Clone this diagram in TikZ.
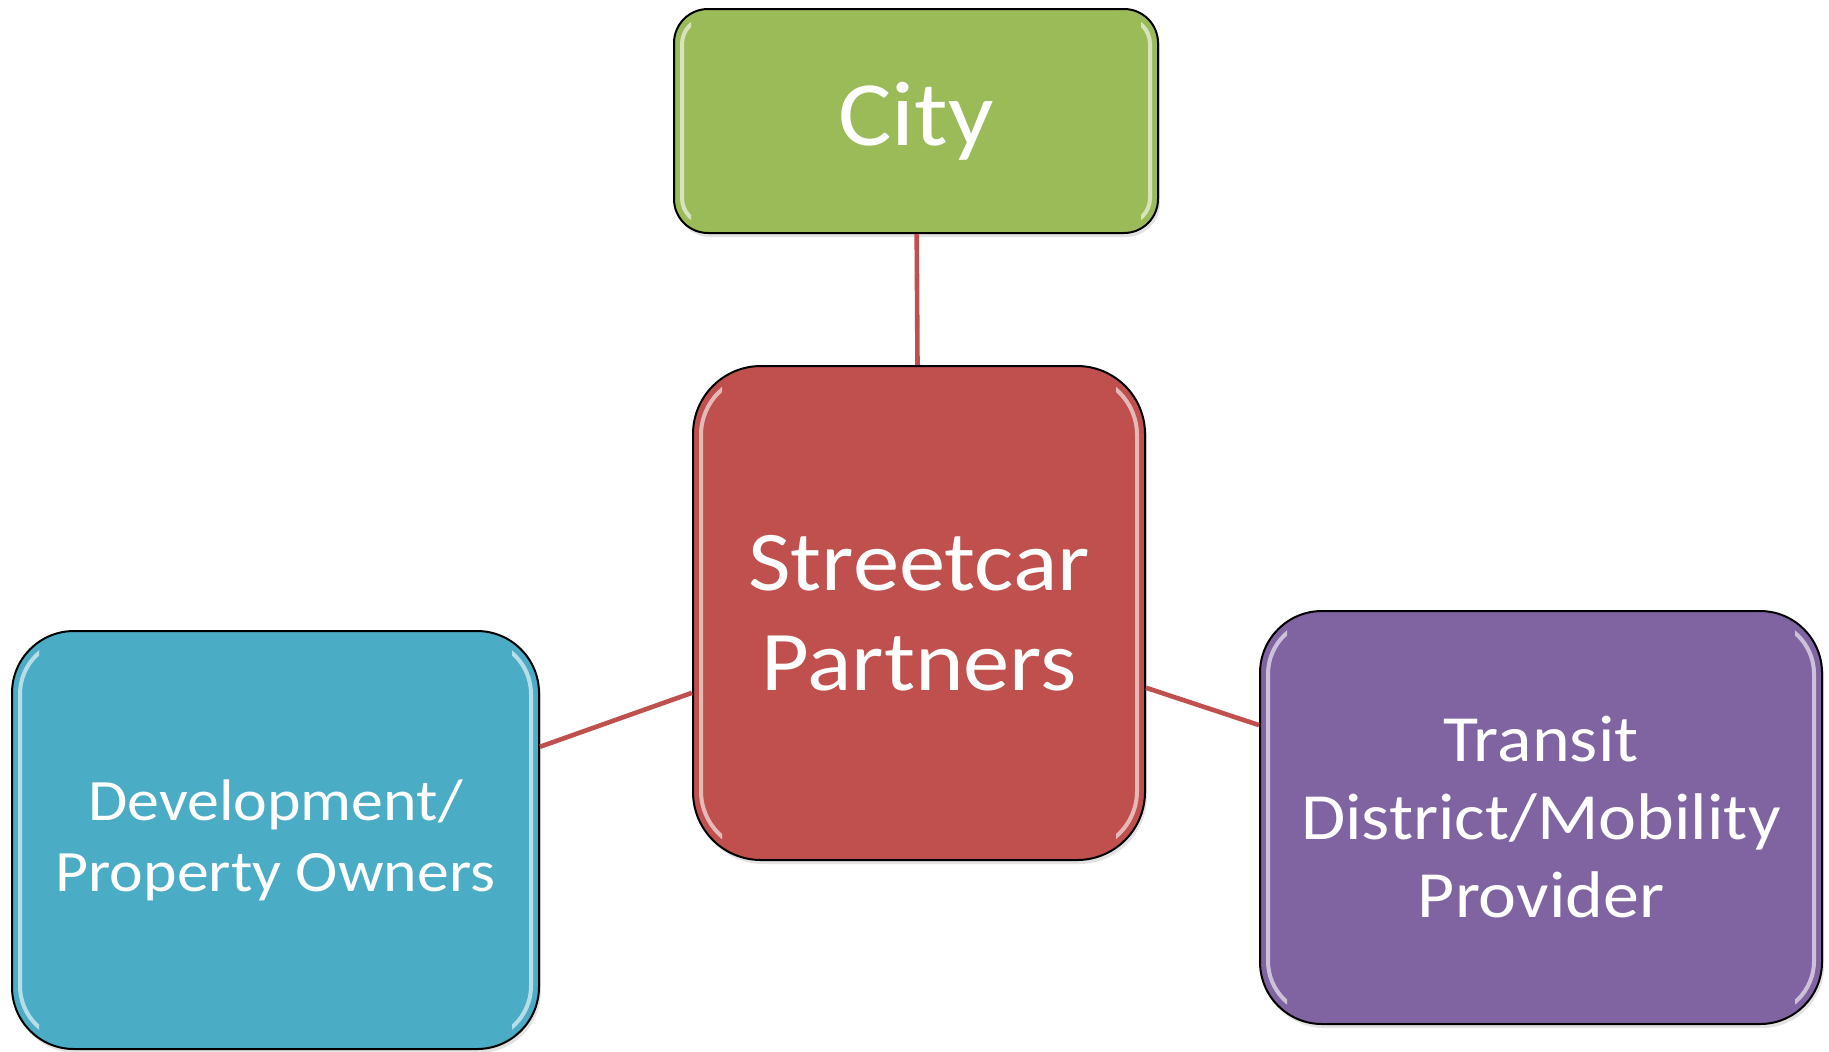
\documentclass[tikz,border=0pt]{standalone}
\usepackage{fontspec}
\setmainfont{Carlito}[FakeStretch=1.09]
\usetikzlibrary{shadows}
\definecolor{cgreen}{HTML}{9BBB59}
\definecolor{cred}{HTML}{C0504D}
\definecolor{cblue}{HTML}{4BACC6}
\definecolor{cpurple}{HTML}{8064A2}
\begin{document}
\begin{tikzpicture}[x=0.5pt,y=-0.5pt,
  box/.style={draw=black, line width=1pt, rounded corners=#1, text=white,
    align=center, inner sep=0pt,
    drop shadow={opacity=0.22, shadow xshift=1pt, shadow yshift=-2pt}},
  link/.style={draw=cred, line width=2.3pt},
  hl/.style={draw=white, opacity=0.6, line width=2pt}]
\useasboundingbox (0,0) rectangle (1829,1051);
\fill[white] (0,0) rectangle (1829,1051);
\node[box=17pt, fill=cgreen, minimum width=242pt, minimum height=112pt,
  font=\fontsize{46}{54}\selectfont] (city) at (916,121) {City};
\node[box=34pt, fill=cred, minimum width=226pt, minimum height=247pt,
  font=\fontsize{42.5}{50}\selectfont] (core) at (919,613) {Streetcar\\Partners};
\node[box=31pt, fill=cblue, minimum width=263.5pt, minimum height=209pt,
  font=\fontsize{29.3}{35.5}\selectfont] (dev) at (275.5,840) {Development/\\Property Owners};
\node[box=31pt, fill=cpurple, minimum width=281pt, minimum height=206.5pt,
  font=\fontsize{33}{39}\selectfont] (tra) at (1541,817.5) {Transit\\District/Mobility\\Provider};
% glossy highlights
\foreach \n/\w/\q in {city/9pt/13pt, core/15pt/30pt, dev/14pt/27pt, tra/14pt/27pt}{
  \begin{scope}
    \clip (\n.south west) rectangle ([xshift=\w]\n.north west);
    \draw[hl, rounded corners=\q] ([shift={(4.5pt,5pt)}]\n.south west) rectangle ([shift={(-4.5pt,-5pt)}]\n.north east);
  \end{scope}
  \begin{scope}
    \clip (\n.south east) rectangle ([xshift=-\w]\n.north east);
    \draw[hl, rounded corners=\q] ([shift={(4.5pt,5pt)}]\n.south west) rectangle ([shift={(-4.5pt,-5pt)}]\n.north east);
  \end{scope}
}
\draw[link] (city) -- (core);
\draw[link] (dev) -- (core);
\draw[link] (core) -- (tra);
\end{tikzpicture}
\end{document}
